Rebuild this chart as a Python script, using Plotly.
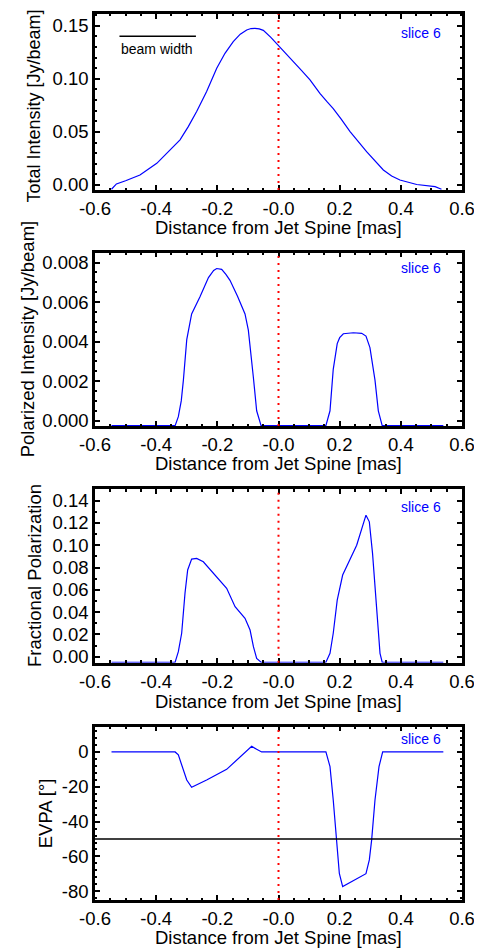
import plotly.graph_objects as go

# ---------------- data ----------------
x_ti = [-0.546, -0.530, -0.500, -0.453, -0.398, -0.360, -0.322, -0.295, -0.2676, -0.235, -0.202,
        -0.175, -0.148, -0.125, -0.104, -0.090, -0.077, -0.063, -0.0496, -0.025, 0.0016, 0.025,
        0.0485, 0.075, 0.103, 0.136, 0.160, 0.179, 0.205, 0.234, 0.288, 0.3428, 0.370, 0.397, 0.452, 0.512, 0.533]
y_ti = [-0.004, 0.001, 0.004, 0.0094, 0.0204, 0.031, 0.0425, 0.055, 0.0692, 0.088, 0.110,
        0.124, 0.135, 0.142, 0.146, 0.1473, 0.1475, 0.147, 0.1456, 0.139, 0.131, 0.124,
        0.1164, 0.108, 0.099, 0.086, 0.078, 0.072, 0.062, 0.0503, 0.0314, 0.0142, 0.0085, 0.0047, 0.0005, -0.0016, -0.004]

x_pi = [-0.546, -0.338, -0.3275, -0.318, -0.311, -0.300, -0.284, -0.2567, -0.229, -0.212, -0.202,
        -0.1858, -0.172, -0.1586, -0.134, -0.1095, -0.0986, -0.090, -0.0822, -0.0714, -0.057,
        0.155, 0.1684, 0.179, 0.192, 0.200, 0.212, 0.2447, 0.272, 0.286, 0.299, 0.3155, 0.3264, 0.339, 0.539]
y_pi = [-0.00025, -0.00025, 0.0002, 0.0010, 0.00205, 0.0041, 0.0054, 0.00627, 0.00724, 0.0076, 0.0077,
        0.00766, 0.0074, 0.0071, 0.0063, 0.0054, 0.00458, 0.0034, 0.0022, 0.0005, -0.00025,
        -0.00025, 0.0005, 0.0026, 0.0039, 0.0042, 0.0044, 0.00445, 0.00442, 0.00428, 0.0037, 0.00205, 0.0005, -0.00025, -0.00025]

x_fp = [-0.546, -0.338, -0.3275, -0.3166, -0.3057, -0.297, -0.284, -0.2676, -0.2458, -0.213, -0.1695,
        -0.142, -0.1095, -0.093, -0.082, -0.0714, -0.057,
        0.155, 0.1684, 0.179, 0.192, 0.2098, 0.234, 0.2556, 0.286, 0.297, 0.3075, 0.3206, 0.3319, 0.339, 0.539]
y_fp = [-0.005, -0.005, 0.0045, 0.021, 0.057, 0.0778, 0.0876, 0.0882, 0.0852, 0.0748, 0.0613,
        0.0449, 0.0344, 0.0239, 0.009, -0.0015, -0.005,
        -0.005, 0.003, 0.021, 0.0508, 0.0733, 0.0867, 0.100, 0.127, 0.121, 0.0927, 0.0419, 0.003, -0.005, -0.005]

x_ev = [-0.546, -0.338, -0.3275, -0.3134, -0.300, -0.284, -0.235, -0.1695, -0.1258, -0.0877, -0.0714, -0.0551,
        0.155, 0.1684, 0.179, 0.190, 0.1989, 0.2098, 0.2447, 0.286, 0.297, 0.3046, 0.3155, 0.3286, 0.3406, 0.539]
y_ev = [0, 0, -1.7, -9.4, -16.1, -20.3, -16.1, -10.0, -2.7, 3.3, 1.5, 0,
        0, -8.4, -27.6, -50.5, -69.7, -77.3, -73.9, -69.9, -62.0, -50.5, -27.6, -8.4, 0, 0]

evpa_ref = [-50]
beam_x = [-0.52, -0.27]
beam_y = [0.14, 0.14]
spine_x = [0.0]

x_tickvals = [-0.6, -0.4, -0.2, 0.0, 0.2, 0.4, 0.6]
x_ticktext = ["-0.6", "-0.4", "-0.2", "-0.0", "0.2", "0.4", "0.6"]

ti_ticks = [0.0, 0.05, 0.10, 0.15]
ti_text = ["0.00", "0.05", "0.10", "0.15"]
pi_ticks = [0.0, 0.002, 0.004, 0.006, 0.008]
pi_text = ["0.000", "0.002", "0.004", "0.006", "0.008"]
fp_ticks = [0.0, 0.02, 0.04, 0.06, 0.08, 0.10, 0.12, 0.14]
fp_text = ["0.00", "0.02", "0.04", "0.06", "0.08", "0.10", "0.12", "0.14"]
ev_ticks = [-80, -60, -40, -20, 0]
ev_text = ["-80", "-60", "-40", "-20", "0"]

x_title = "Distance from Jet Spine [mas]"
y_titles = ["Total Intensity [Jy/beam]", "Polarized Intensity [Jy/beam]",
            "Fractional Polarization", "EVPA [°]"]
slice_label = "slice 6"

# ---------------- layout ----------------
# the page body adds an 8px margin, so the figure is 8px smaller and all
# screen-pixel positions below are shifted by that offset
OFF = 8
W, H = 482 - OFF, 950 - OFF
FONT = "Liberation Sans, Arial, Helvetica, sans-serif"
FS = 18.5
BLUE = "#0000ff"

def fx(px):
    return (px - OFF) / W

def fy(py):
    return 1 - (py - OFF) / H

xdom = [fx(95), fx(462)]
px_top = [14, 252.7, 489.3, 726.7]
px_bot = [190, 426, 662.7, 900]
ydoms = [[fy(b), fy(t)] for t, b in zip(px_top, px_bot)]
yranges = [[-0.0047, 0.161], [-0.00027, 0.0085], [-0.0054, 0.1502], [-85, 14.5]]
yticks = [(ti_ticks, ti_text), (pi_ticks, pi_text), (fp_ticks, fp_text), (ev_ticks, ev_text)]
yminor = [0.01, 0.0005, 0.01, 4]
ytitle_px = [33, 27, 34, 45]
ytitle_cy = [106.5, 339.3, 576, 813.3]
ytitle_fs = [18, FS, FS, FS]
xtitle_gap = [37, 37, 39, 37]
slice_y = [0.892, 0.91, 0.896, 0.929]
series = [(x_ti, y_ti), (x_pi, y_pi), (x_fp, y_fp), (x_ev, y_ev)]

fig = go.Figure()
layout = dict(width=W, height=H, autosize=False,
              margin=dict(l=0, r=0, t=0, b=0, pad=0, autoexpand=False),
              paper_bgcolor="white", plot_bgcolor="white", showlegend=False,
              font=dict(family=FONT, size=FS, color="black"))

def axis_common():
    return dict(showline=True, linewidth=2.5, linecolor="black", mirror="allticks",
                ticks="inside", ticklen=5, tickwidth=2, tickcolor="black",
                showgrid=False, zeroline=False, automargin=False,
                tickfont=dict(family=FONT, size=FS, color="black"))

shapes = []
annotations = []
for i in range(4):
    n = "" if i == 0 else str(i + 1)
    xa = axis_common()
    xa.update(domain=xdom, range=[-0.6, 0.6], anchor="y" + n,
              tickmode="array", tickvals=x_tickvals, ticktext=x_ticktext,
              minor=dict(ticks="inside", ticklen=2.5, tickwidth=1.5, tickcolor="black", dtick=0.05, tick0=0))
    ya = axis_common()
    ya.update(domain=ydoms[i], range=yranges[i], anchor="x" + n,
              tickmode="array", tickvals=yticks[i][0], ticktext=yticks[i][1],
              minor=dict(ticks="inside", ticklen=2.5, tickwidth=1.5, tickcolor="black", dtick=yminor[i], tick0=0))
    layout["xaxis" + n] = xa
    layout["yaxis" + n] = ya

    fig.add_trace(go.Scatter(x=series[i][0], y=series[i][1], mode="lines",
                             line=dict(color=BLUE, width=1.2), xaxis="x" + n, yaxis="y" + n))
    # jet spine marker
    shapes.append(dict(type="line", xref="x" + n, yref="y" + n + " domain",
                       x0=spine_x[0], x1=spine_x[0], y0=0, y1=1,
                       line=dict(color="red", width=2, dash="2px,5px")))
    annotations.append(dict(text=slice_label, xref="x" + n + " domain", yref="y" + n + " domain",
                            x=0.888, y=slice_y[i], showarrow=False, xanchor="center", yanchor="middle",
                            font=dict(family=FONT, size=14, color=BLUE)))
    # axis titles
    annotations.append(dict(text=x_title, xref="paper", yref="paper",
                            x=(xdom[0] + xdom[1]) / 2, y=fy(px_bot[i] + xtitle_gap[i]),
                            showarrow=False, xanchor="center", yanchor="middle",
                            font=dict(family=FONT, size=FS, color="black")))
    annotations.append(dict(text=y_titles[i], xref="paper", yref="paper", textangle=-90,
                            x=fx(ytitle_px[i]), y=fy(ytitle_cy[i]),
                            showarrow=False, xanchor="center", yanchor="middle",
                            font=dict(family=FONT, size=ytitle_fs[i], color="black")))

# EVPA reference line
shapes.append(dict(type="line", xref="x4 domain", yref="y4", x0=0, x1=1,
                   y0=evpa_ref[0], y1=evpa_ref[0], line=dict(color="black", width=1.5)))
# beam width bar
fig.add_trace(go.Scatter(x=beam_x, y=beam_y, mode="lines", line=dict(color="black", width=1.5),
                         xaxis="x", yaxis="y"))
annotations.append(dict(text="beam width", xref="x", yref="y", x=beam_x[0], y=0.128,
                        showarrow=False, xanchor="left", yanchor="middle",
                        font=dict(family=FONT, size=14, color="black")))

layout["shapes"] = shapes
layout["annotations"] = annotations
fig.update_layout(**layout)
fig.write_html("out.html")
